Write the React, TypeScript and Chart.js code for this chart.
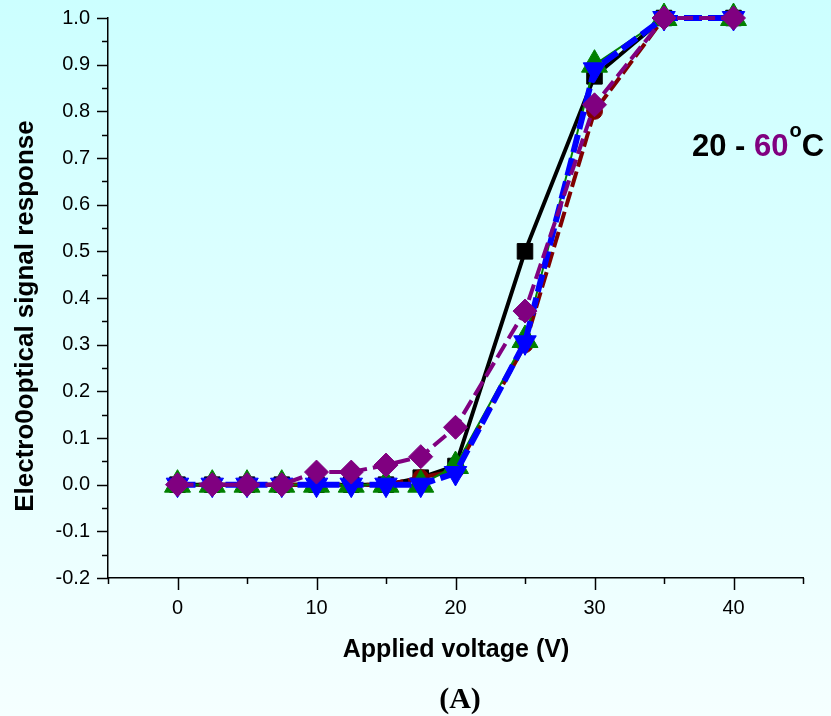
import React, { useEffect, useRef } from "react";
import { Chart, registerables } from "chart.js";

Chart.register(...registerables);

// Applied voltage (V)
const voltages = [0, 2.5, 5, 7.5, 10, 12.5, 15, 17.5, 20, 25, 30, 35, 40];
// Electro-optical signal response per temperature series
const seriesBlack = [0, 0, 0, 0, 0, 0, 0, 0.015, 0.04, 0.5, 0.875, 1, 1];
const seriesMaroon = [0, 0, 0, 0, 0, 0, 0, 0.015, 0.03, 0.3, 0.8, 1, 1];
const seriesGreen = [0, 0, 0, 0, 0, 0, 0, 0, 0.04, 0.31, 0.9, 1, 1];
const seriesBlue = [0, 0, 0, 0, 0, 0, 0, 0, 0.025, 0.305, 0.89, 1, 1];
const seriesPurple = [0, 0, 0, 0, 0.027, 0.027, 0.042, 0.06, 0.123, 0.372, 0.814, 1, 1];

const xTickValues = [0, 10, 20, 30, 40];
const yTickValues = [-0.2, -0.1, 0, 0.1, 0.2, 0.3, 0.4, 0.5, 0.6, 0.7, 0.8, 0.9, 1.0];

const X_MIN = -5;
const X_MAX = 45;
const Y_MIN = -0.2;
const Y_MAX = 1.0;

const SANS = '"Liberation Sans", Arial, sans-serif';
const SERIF = '"Liberation Serif", "Times New Roman", serif';

const toXY = (ys: number[]) => ys.map((y, i) => ({ x: voltages[i], y }));

const decorPlugin = {
  id: "decor",
  afterDraw(chart: any) {
    const ctx = chart.ctx as CanvasRenderingContext2D;
    const xs = chart.scales.x;
    const ys = chart.scales.y;
    const area = chart.chartArea;
    ctx.save();
    ctx.strokeStyle = "#000";
    ctx.lineWidth = 1.5;
    // x ticks (major every 10, minor every 5)
    for (let v = X_MIN; v <= X_MAX + 1e-9; v += 5) {
      const px = Math.round(xs.getPixelForValue(v)) + 0.5;
      const len = Math.abs(v % 10) < 1e-9 ? 12 : 6;
      ctx.beginPath();
      ctx.moveTo(px, area.bottom);
      ctx.lineTo(px, area.bottom + len);
      ctx.stroke();
    }
    // y ticks (major every 0.1, minor every 0.05)
    for (let k = 0; k <= 24; k++) {
      const v = Y_MIN + k * 0.05;
      const py = Math.round(ys.getPixelForValue(v)) + 0.5;
      const len = k % 2 === 0 ? 11 : 6;
      ctx.beginPath();
      ctx.moveTo(area.left, py);
      ctx.lineTo(area.left - len, py);
      ctx.stroke();
    }

    // axis titles
    ctx.fillStyle = "#000";
    ctx.textAlign = "center";
    ctx.textBaseline = "alphabetic";
    ctx.font = `bold 25px ${SANS}`;
    ctx.fillText("Applied voltage (V)", 456, 657);

    ctx.save();
    ctx.translate(33, 316);
    ctx.rotate(-Math.PI / 2);
    ctx.font = `bold 26px ${SANS}`;
    ctx.fillText("Electro0optical signal response", 0, 0);
    ctx.restore();

    ctx.font = `bold 30px ${SERIF}`;
    ctx.fillText("(A)", 460, 708);

    // annotation "20 - 60°C"
    ctx.textAlign = "left";
    let x = 692;
    const base = 156;
    ctx.font = `bold 31px ${SANS}`;
    ctx.fillStyle = "#000";
    const p1 = "20 - ";
    ctx.fillText(p1, x, base);
    x += ctx.measureText(p1).width;
    ctx.fillStyle = "#800080";
    const p2 = "60";
    ctx.fillText(p2, x, base);
    x += ctx.measureText(p2).width + 1;
    ctx.fillStyle = "#000";
    ctx.font = `bold 20px ${SANS}`;
    ctx.fillText("o", x, 137);
    x += ctx.measureText("o").width;
    ctx.font = `bold 31px ${SANS}`;
    ctx.fillText("C", x, base);
    ctx.restore();
  },
};

export default function App() {
  const canvasRef = useRef<HTMLCanvasElement | null>(null);

  useEffect(() => {
    const canvas = canvasRef.current;
    if (!canvas) return;
    const chart = new Chart(canvas, {
      type: "line",
      data: {
        datasets: [
          {
            label: "60",
            data: toXY(seriesPurple),
            borderColor: "#800080",
            backgroundColor: "#800080",
            borderWidth: 4,
            borderDash: [16, 6],
            pointStyle: "rectRot",
            pointRadius: 12,
            pointBorderWidth: 1,
            pointBorderColor: "#800080",
            pointBackgroundColor: "#800080",
            order: 0,
          },
          {
            label: "blue",
            data: toXY(seriesBlue),
            borderColor: "#0000FF",
            backgroundColor: "#0000FF",
            borderWidth: 6,
            borderDash: [18, 6],
            pointStyle: "triangle",
            rotation: 180,
            pointRadius: 13,
            pointBorderWidth: 1,
            pointBorderColor: "#0000FF",
            pointBackgroundColor: "#0000FF",
            order: 1,
          },
          {
            label: "green",
            data: toXY(seriesGreen),
            borderColor: "#008000",
            backgroundColor: "#008000",
            borderWidth: 2,
            pointStyle: "triangle",
            pointRadius: 15,
            pointBorderWidth: 1,
            pointBorderColor: "#008000",
            pointBackgroundColor: "#008000",
            order: 2,
          },
          {
            label: "maroon",
            data: toXY(seriesMaroon),
            borderColor: "#800000",
            backgroundColor: "#800000",
            borderWidth: 4,
            borderDash: [16, 5],
            pointStyle: "circle",
            pointRadius: 8,
            pointBorderWidth: 1,
            pointBorderColor: "#800000",
            pointBackgroundColor: "#800000",
            order: 3,
          },
          {
            label: "20",
            data: toXY(seriesBlack),
            borderColor: "#000000",
            backgroundColor: "#000000",
            borderWidth: 4,
            pointStyle: "rect",
            pointRadius: 11,
            pointBorderWidth: 1,
            pointBorderColor: "#000000",
            pointBackgroundColor: "#000000",
            order: 4,
          },
        ],
      },
      options: {
        responsive: false,
        animation: false,
        events: [],
        layout: { padding: { left: 0, right: 28, top: 18, bottom: 0 } },
        elements: { line: { tension: 0 } },
        datasets: { line: { clip: false } } as any,
        plugins: {
          legend: { display: false },
          tooltip: { enabled: false },
          title: { display: false },
        },
        scales: {
          x: {
            type: "linear",
            min: X_MIN,
            max: X_MAX,
            afterBuildTicks: (scale: any) => {
              scale.ticks = xTickValues.map((v) => ({ value: v }));
            },
            afterFit: (scale: any) => {
              scale.height = 138;
              scale.paddingLeft = 0;
              scale.paddingRight = 0;
            },
            grid: { display: false, drawTicks: false },
            border: { display: true, color: "#000", width: 1.5 },
            ticks: {
              padding: 18,
              color: "#000",
              font: { family: SANS, size: 20 },
              maxRotation: 0,
              autoSkip: false,
            },
          },
          y: {
            type: "linear",
            min: Y_MIN,
            max: Y_MAX,
            afterBuildTicks: (scale: any) => {
              scale.ticks = yTickValues.map((v) => ({ value: v }));
            },
            afterFit: (scale: any) => {
              scale.width = 108;
              scale.paddingTop = 0;
              scale.paddingBottom = 0;
            },
            grid: { display: false, drawTicks: false },
            border: { display: true, color: "#000", width: 1.5 },
            ticks: {
              padding: 18,
              color: "#000",
              font: { family: SANS, size: 20 },
              autoSkip: false,
              callback: (v: any) => Number(v).toFixed(1),
            },
          },
        },
      },
      plugins: [decorPlugin],
    });
    return () => chart.destroy();
  }, []);

  return (
    <div
      style={{
        position: "fixed",
        left: 0,
        top: 0,
        width: 831,
        height: 716,
        background: "linear-gradient(to bottom, #CCFFFF 0%, #F5FFFF 100%)",
      }}
    >
      <canvas ref={canvasRef} width={831} height={716} style={{ display: "block" }} />
    </div>
  );
}
